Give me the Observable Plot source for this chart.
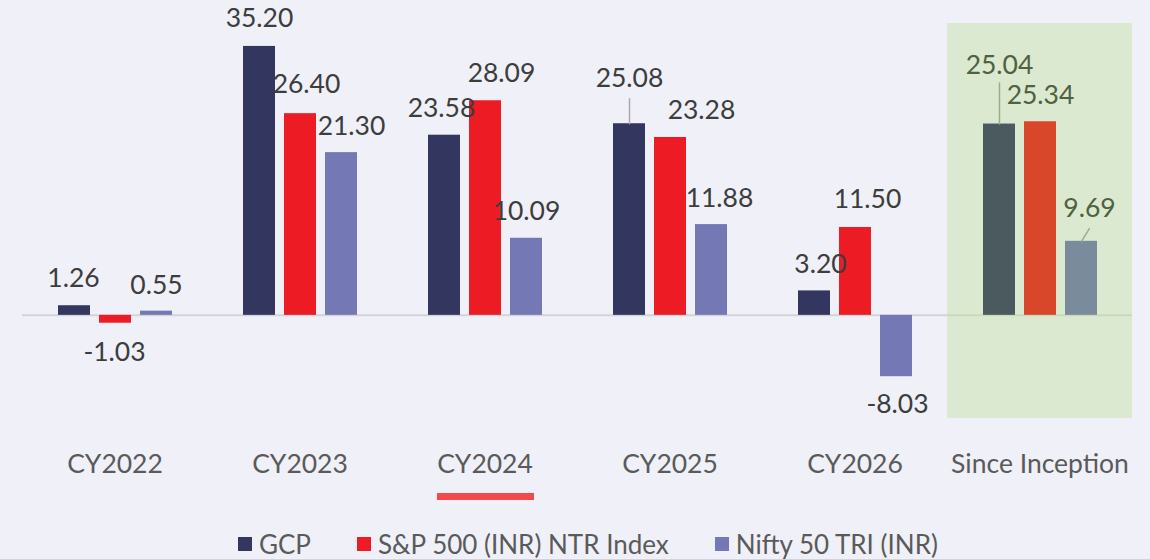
<!DOCTYPE html>
<html>
<head>
<meta charset="utf-8">
<script src="https://cdn.jsdelivr.net/npm/d3@7"></script>
<script src="https://cdn.jsdelivr.net/npm/@observablehq/plot@0.6"></script>
<style>
  html, body { margin: 0; padding: 0; background: #f0f0f8; font-family: Lato, sans-serif; }
  #wrap { position: relative; width: 1150px; height: 559px; overflow: hidden; }
  #underline { position: absolute; left: 437px; top: 493px; width: 97px; height: 7px; background: #f24a4a; }
  #legend { position: absolute; left: 238px; top: 530px; display: flex; gap: 46px; align-items: center;
            font-size: 26px; line-height: 28px; color: #5a5a5a; white-space: nowrap; }
  #legend .item { display: flex; align-items: center; gap: 7px; }
  #legend .sw { width: 14px; height: 14px; display: inline-block; }
</style>
</head>
<body>
<div id="wrap">
  <div id="chart"></div>
  <div id="underline"></div>
  <div id="legend"></div>
</div>
<script>
// ---- data ----
const categories = ["CY2022", "CY2023", "CY2024", "CY2025", "CY2026", "Since Inception"];
const series = ["GCP", "S&P 500 (INR) NTR Index", "Nifty 50 TRI (INR)"];
const gcp   = [1.26, 35.20, 23.58, 25.08, 3.20, 25.04];
const sp500 = [-1.03, 26.40, 28.09, 23.28, 11.50, 25.34];
const nifty = [0.55, 21.30, 10.09, 11.88, -8.03, 9.69];

// ---- styling / layout (not data) ----
const seriesColors = ["#33365f", "#ed1c24", "#7479b5"];
const highlightColors = ["#4a5a5e", "#d9472b", "#7a8b9b"];
const highlightCat = "Since Inception";
// label nudges in pixels [dx, dy] per category x series
const labelNudge = [
  [[-1, -27], [-1, 29], [0, -26]],
  [[0, -28], [6, -29], [10, -26]],
  [[-3, -27], [16, -27], [0, -27]],
  [[0, -45], [31, -27], [8, -26]],
  [[6, -26], [12, -28], [1, 28]],
  [[0, -59], [0, -26], [8, -33]]
];
// leader lines: [category, series index, length px, rotate deg, color]
const leaders = [
  ["CY2025", 0, 25, 0, "#aaaaaa"],
  ["Since Inception", 0, 41, 0, "#9aae88"],
  ["Since Inception", 2, 15, 31.6, "#9aae88"]
];
const yMin = -13.5, yMax = 38.2;

const values = [gcp, sp500, nifty];
const rows = [];
categories.forEach((c, ci) => {
  series.forEach((s, si) => {
    const v = values[si][ci];
    rows.push({
      category: c, series: s, value: v,
      color: c === highlightCat ? highlightColors[si] : seriesColors[si],
      dx: labelNudge[ci][si][0], dy: labelNudge[ci][si][1],
      labelColor: c === highlightCat ? "#4f6140" : "#3d3d3d"
    });
  });
});

const lineShape = { draw(context, l) { context.moveTo(0, 0); context.lineTo(0, -l); } };

const marks = [
  Plot.rect([{category: highlightCat}], {fx: "category", y1: yMin, y2: yMax, fill: "#dce9d1"}),
  Plot.ruleY(categories.map(c => ({category: c, v: 0})), {
    fx: "category", y: "v", strokeWidth: 2,
    stroke: d => d.category === highlightCat ? "#c8dbb8" : "#d4d4d8"
  }),
  Plot.barY(rows, {fx: "category", x: "series", y: "value", fill: "color"}),
  ...leaders.map(([c, si, len, rot, col]) => {
    const r = rows.find(d => d.category === c && d.series === series[si]);
    return Plot.vector([r], {fx: "category", x: "series", y: "value", length: len, rotate: rot,
      anchor: "start", shape: lineShape, stroke: col, strokeWidth: 1.5});
  }),
  ...rows.map(r => Plot.text([r], {
    fx: "category", x: "series", y: "value",
    text: d => d.value.toFixed(2),
    dx: r.dx, dy: r.dy, fill: r.labelColor, fontSize: 26.5, lineAnchor: "middle"
  })),
  Plot.axisFx({anchor: "bottom", tickSize: 0, tickPadding: 36, fontSize: 26.5, fill: "#5a5a5a", label: null})
];

const chart = Plot.plot({
  width: 1150,
  height: 505,
  marginLeft: 20,
  marginRight: 17,
  marginTop: 23,
  marginBottom: 87,
  style: {background: "transparent", fontFamily: "Lato, sans-serif"},
  fx: {domain: categories, padding: 0, axis: null, label: null},
  x: {domain: series, paddingInner: 0.22, paddingOuter: 0.866, axis: null},
  y: {domain: [yMin, yMax], axis: null},
  color: {type: "identity"},
  marks
});
document.getElementById("chart").appendChild(chart);

const legend = document.getElementById("legend");
series.forEach((s, i) => {
  const item = document.createElement("div");
  item.className = "item";
  const sw = document.createElement("span");
  sw.className = "sw";
  sw.style.background = seriesColors[i];
  const t = document.createElement("span");
  t.textContent = s;
  item.appendChild(sw); item.appendChild(t);
  legend.appendChild(item);
});
</script>
</body>
</html>
